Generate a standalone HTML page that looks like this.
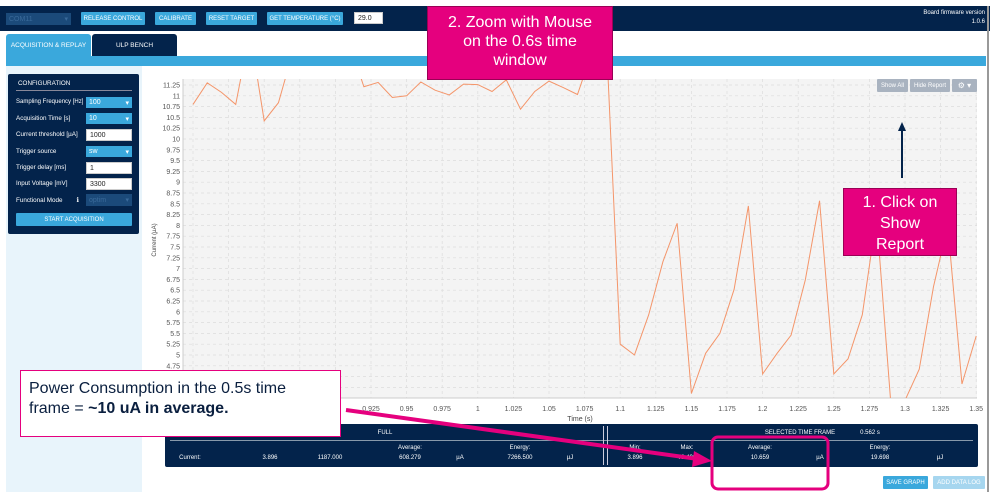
<!DOCTYPE html>
<html><head><meta charset="utf-8"><style>
*{box-sizing:border-box;margin:0;padding:0}
body{width:990px;height:492px;position:relative;overflow:hidden;background:#fff;font-family:"Liberation Sans",sans-serif;}
.abs{position:absolute}
.btn{position:absolute;background:#3aa8dc;color:#fff;font-size:6px;display:flex;align-items:center;justify-content:center;border-radius:1px;white-space:nowrap}
.lbl{position:absolute;color:#fff;font-size:6.3px;white-space:nowrap}
.inp{position:absolute;background:#fff;color:#222;font-size:7px;padding-left:3px;display:flex;align-items:center;border:1px solid #ccc}
.sel{position:absolute;background:#3aa8dc;color:#fff;font-size:7px;padding-left:3px;display:flex;align-items:center}
.sel:after{content:"▾";position:absolute;right:3px;font-size:7px}
.callout{position:absolute;background:#e5007e;color:#fff;border:1px solid #9a0055;font-size:16px;text-align:center;line-height:19px}
.t{position:absolute;color:#fff;font-size:6px;transform:translateX(-50%);white-space:nowrap}
</style></head><body>
<div class="abs" style="left:0;top:0;width:990px;height:6px;background:#fff"></div>
<div class="abs" style="left:0;top:6px;width:990px;height:25px;background:#03234b"></div>
<div class="sel" style="left:6px;top:13px;width:65px;height:12px;background:#1b4a7a;color:#3a6a9a">COM11</div>
<div class="btn" style="left:81px;top:12px;width:64px;height:13px">RELEASE CONTROL</div>
<div class="btn" style="left:155px;top:12px;width:41px;height:13px">CALIBRATE</div>
<div class="btn" style="left:206px;top:12px;width:51px;height:13px">RESET TARGET</div>
<div class="btn" style="left:267px;top:12px;width:76px;height:13px">GET TEMPERATURE (°C)</div>
<div class="inp" style="left:354px;top:12px;width:29px;height:12px">29.0</div>
<div class="lbl" style="left:900px;top:9px;width:85px;text-align:right;font-size:6px;line-height:9px">Board firmware version<br>1.0.6</div>
<div class="abs" style="left:6px;top:34px;width:85px;height:22px;background:#3aa8dc;color:#fff;font-size:6.5px;display:flex;align-items:center;justify-content:center;border-radius:3px 3px 0 0">ACQUISITION &amp; REPLAY</div>
<div class="abs" style="left:92px;top:34px;width:85px;height:22px;background:#03234b;color:#fff;font-size:6.5px;display:flex;align-items:center;justify-content:center;border-radius:3px 3px 0 0">ULP BENCH</div>
<div class="abs" style="left:6px;top:56px;width:980px;height:10px;background:#3aa8dc"></div>
<div class="abs" style="left:6px;top:66px;width:136px;height:426px;background:#e8f4fb"></div>
<div class="abs" style="left:987px;top:6px;width:2px;height:486px;background:#999"></div>
<div class="abs" style="left:8px;top:74px;width:131px;height:160px;background:#03234b;border-radius:2px"></div>
<div class="lbl" style="left:18px;top:80px">CONFIGURATION</div>
<div class="abs" style="left:16px;top:90px;width:116px;height:1px;background:#889"></div>
<div class="lbl" style="left:16px;top:99px;font-size:6px">Sampling Frequency [Hz]</div>
<div class="sel" style="left:86px;top:97px;width:46px;height:11px">100</div>
<div class="lbl" style="left:16px;top:115px">Acquisition Time [s]</div>
<div class="sel" style="left:86px;top:113px;width:46px;height:11px">10</div>
<div class="lbl" style="left:16px;top:131px">Current threshold [µA]</div>
<div class="inp" style="left:86px;top:129px;width:46px;height:12px">1000</div>
<div class="lbl" style="left:16px;top:148px">Trigger source</div>
<div class="sel" style="left:86px;top:146px;width:46px;height:11px">sw</div>
<div class="lbl" style="left:16px;top:164px">Trigger delay [ms]</div>
<div class="inp" style="left:86px;top:162px;width:46px;height:12px">1</div>
<div class="lbl" style="left:16px;top:180px">Input Voltage [mV]</div>
<div class="inp" style="left:86px;top:178px;width:46px;height:12px">3300</div>
<div class="lbl" style="left:16px;top:197px">Functional Mode &nbsp;&nbsp;&nbsp;&nbsp;&nbsp;&nbsp;&nbsp;ℹ</div>
<div class="sel" style="left:86px;top:194px;width:46px;height:12px;background:#1b4a7a;color:#3a6a9a">optim</div>
<div class="btn" style="left:16px;top:213px;width:116px;height:13px">START ACQUISITION</div>

<svg class="abs" style="left:0;top:0" width="990" height="492" id="chart"></svg>

<div class="btn" style="left:877px;top:79px;width:31px;height:13px;background:#a9b3c0;font-size:6px">Show All</div>
<div class="btn" style="left:910px;top:79px;width:40px;height:13px;background:#a9b3c0;font-size:6px">Hide Report</div>
<div class="btn" style="left:952px;top:79px;width:25px;height:13px;background:#a9b3c0;font-size:8px">⚙ ▾</div>

<div class="abs" style="left:165px;top:424px;width:813px;height:43px;background:#03234b;border-radius:2px"></div>
<div class="abs" style="left:170px;top:440px;width:803px;height:1px;background:#8899aa"></div>
<div class="abs" style="left:603px;top:426px;width:5px;height:39px;border-left:1px solid #ccd;border-right:1px solid #ccd"></div>
<div class="t" style="left:385px;top:430px">FULL</div>
<div class="t" style="left:800px;top:430px">SELECTED TIME FRAME</div>
<div class="t" style="left:870px;top:430px">0.562 s</div>
<div class="t" style="left:410px;top:445px">Average:</div>
<div class="t" style="left:520px;top:445px">Energy:</div>
<div class="t" style="left:635px;top:445px">Min:</div>
<div class="t" style="left:687px;top:445px">Max:</div>
<div class="t" style="left:760px;top:445px">Average:</div>
<div class="t" style="left:880px;top:445px">Energy:</div>
<div class="t" style="left:190px;top:455px">Current:</div>
<div class="t" style="left:270px;top:455px">3.896</div>
<div class="t" style="left:330px;top:455px">1187.000</div>
<div class="t" style="left:410px;top:455px">608.279</div>
<div class="t" style="left:460px;top:455px">µA</div>
<div class="t" style="left:520px;top:455px">7266.500</div>
<div class="t" style="left:570px;top:455px">µJ</div>
<div class="t" style="left:635px;top:455px">3.896</div>
<div class="t" style="left:687px;top:455px">78.490</div>
<div class="t" style="left:760px;top:455px">10.659</div>
<div class="t" style="left:820px;top:455px">µA</div>
<div class="t" style="left:880px;top:455px">19.698</div>
<div class="t" style="left:940px;top:455px">µJ</div>
<div class="btn" style="left:883px;top:476px;width:45px;height:13px;font-size:6px">SAVE GRAPH</div>
<div class="btn" style="left:933px;top:476px;width:52px;height:13px;font-size:6px;background:#a6d6ef">ADD DATA LOG</div>

<div class="callout" style="left:427px;top:6px;width:186px;height:74px;padding:6px 12px 0 12px">2. Zoom with Mouse on the 0.6s time window</div>
<div class="callout" style="left:843px;top:188px;width:114px;height:68px;padding:3px 18px 0 18px;line-height:21px">1. Click on Show Report</div>
<div class="abs" style="left:20px;top:370px;width:321px;height:67px;background:#fff;border:1px solid #e5007e;padding:8px 30px 0 8px;font-size:16px;line-height:20px;color:#0a1f3f">Power Consumption in the 0.5s time frame = <b>~10 uA in average.</b></div>
<svg class="abs" style="left:0;top:0" width="990" height="492">
<line x1="902" y1="178" x2="902" y2="130" stroke="#03234b" stroke-width="2"/>
<polygon points="898,131 906,131 902,122" fill="#03234b"/>
<line x1="346" y1="410" x2="698" y2="459" stroke="#e5007e" stroke-width="4"/>
<polygon points="694,451 712,461 692,467" fill="#e5007e"/>
<rect x="712" y="437" width="116" height="52" rx="6" fill="none" stroke="#e5007e" stroke-width="3"/>
</svg>

<script>
const tVals=[0.80,0.81,0.82,0.83,0.84,0.85,0.86,0.87,0.88,0.89,0.90,0.91,0.92,0.93,0.94,0.95,0.96,0.97,0.98,0.99,1.00,1.01,1.02,1.03,1.04,1.05,1.06,1.07,1.08,1.09,1.10,1.11,1.12,1.13,1.14,1.15,1.16,1.17,1.18,1.19,1.20,1.21,1.22,1.23,1.24,1.25,1.26,1.27,1.28,1.29,1.30,1.31,1.32,1.33,1.34,1.35];
const currentVals=[10.80,11.30,11.08,10.80,12.5,10.42,10.84,12.0,12.5,12.3,12.6,12.2,11.21,11.31,10.96,11.0,11.32,11.13,11.02,11.27,11.26,11.10,11.37,10.69,11.10,11.34,11.19,11.03,12.0,12.5,5.25,5.0,5.93,7.16,8.05,4.11,5.04,5.50,6.52,8.45,4.56,5.03,5.46,6.74,8.57,4.56,4.91,5.93,8.2,3.9,3.95,4.67,6.58,8.0,4.33,5.44];
const xTickLabels=["0.8","0.825","0.85","0.875","0.9","0.925","0.95","0.975","1","1.025","1.05","1.075","1.1","1.125","1.15","1.175","1.2","1.225","1.25","1.275","1.3","1.325","1.35"];
const yTickLabels=["4","4.25","4.5","4.75","5","5.25","5.5","5.75","6","6.25","6.5","6.75","7","7.25","7.5","7.75","8","8.25","8.5","8.75","9","9.25","9.5","9.75","10","10.25","10.5","10.75","11","11.25"];
const NS='http://www.w3.org/2000/svg';
const svg=document.getElementById('chart');
const L=183,R=977,T=79,B=398;
const x=t=>193+(t-0.8)*1424;
const y=v=>85+(11.25-v)*43.2;
function mk(tag,at){const e=document.createElementNS(NS,tag);for(const k in at)e.setAttribute(k,at[k]);svg.appendChild(e);return e;}
const bg=mk('rect',{x:L,y:T,width:R-L,height:B-T,fill:'#f4f4f4'});


yTickLabels.forEach(s=>{const v=parseFloat(s),yy=y(v);
 if(yy<T||yy>B)return;
 const g=mk('line',{x1:L,x2:R,y1:yy,y2:yy,stroke:'#dcdcdc','stroke-dasharray':'3,3','stroke-width':0.7});
 
 
 const tx=mk('text',{x:L-3,y:yy+2.5,'font-size':7,fill:'#555','text-anchor':'end','font-family':'Liberation Sans'});
 tx.textContent=s;
 
 
});
xTickLabels.forEach(s=>{const v=parseFloat(s),xx=x(v);
 if(xx<L-1||xx>R+1)return;
 const g=mk('line',{x1:xx,x2:xx,y1:T,y2:B,stroke:'#dcdcdc','stroke-dasharray':'3,3','stroke-width':0.7});
 
 
 const tx=mk('text',{x:xx,y:411,'font-size':7,fill:'#555','text-anchor':'middle','font-family':'Liberation Sans'});
 tx.textContent=s;
 
 
});
const ax=mk('line',{x1:L,x2:R,y1:B,y2:B,stroke:'#ccc'});


const ay=mk('line',{x1:L,x2:L,y1:T,y2:B,stroke:'#ccc'});


const xt=mk('text',{x:580,y:421,'font-size':7,fill:'#444','text-anchor':'middle','font-family':'Liberation Sans'});
xt.textContent='Time (s)';


const yt=mk('text',{x:0,y:0,'font-size':6,fill:'#444','text-anchor':'middle','font-family':'Liberation Sans',transform:'translate(156,240) rotate(-90)'});
yt.textContent='Current (µA)';


const cp=mk('clipPath',{id:'clip'});
const cr=document.createElementNS(NS,'rect');cr.setAttribute('x',L);cr.setAttribute('y',T);cr.setAttribute('width',R-L);cr.setAttribute('height',B-T);cp.appendChild(cr);
const line=mk('polyline',{points:tVals.map((t,i)=>x(t)+','+y(currentVals[i])).join(' '),fill:'none',stroke:'#f4956a','stroke-width':1,'clip-path':'url(#clip)'});


</script>
</body></html>
